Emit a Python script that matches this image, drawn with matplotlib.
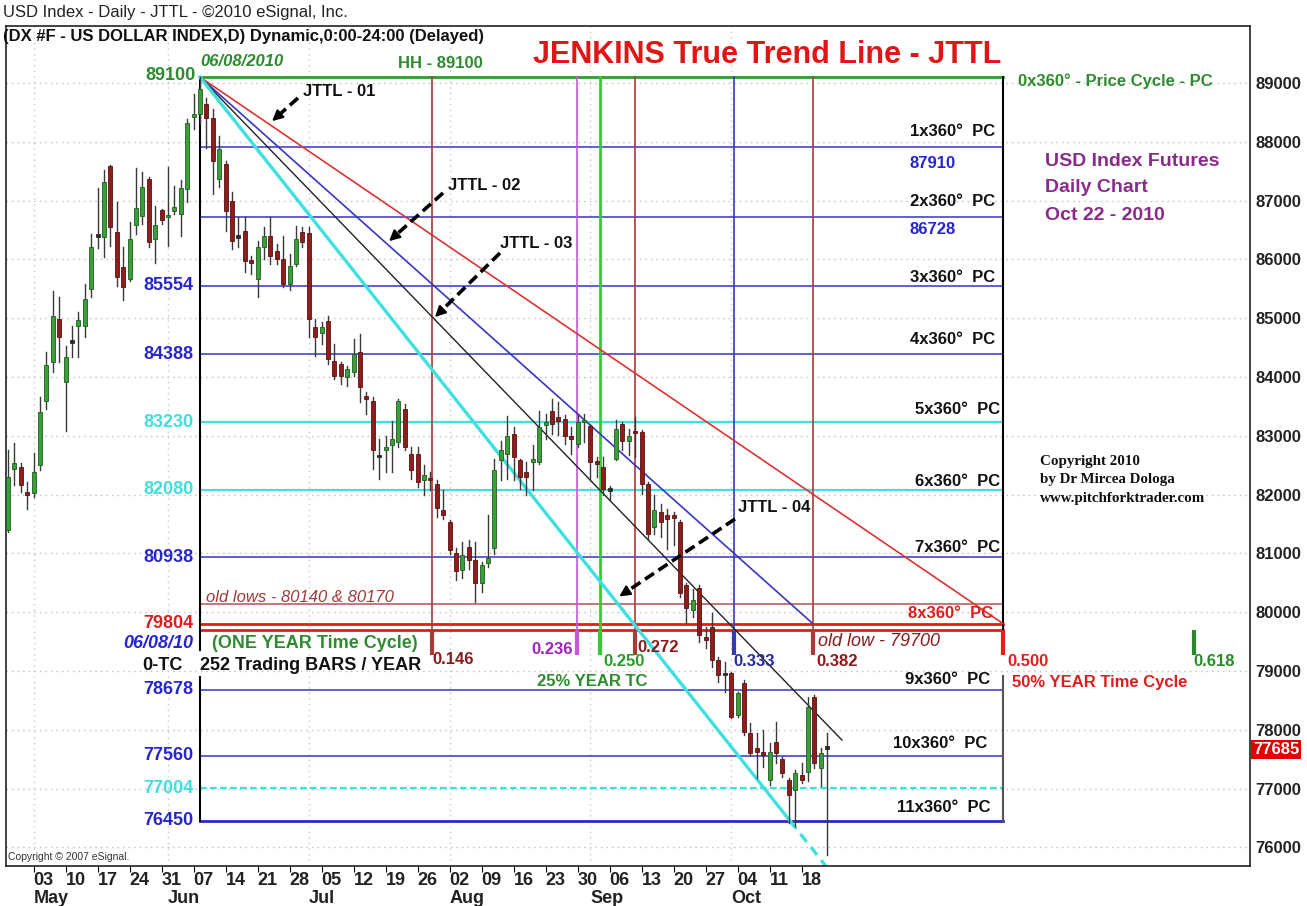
import matplotlib
matplotlib.use('Agg')
import matplotlib.pyplot as plt
from matplotlib.patches import FancyArrowPatch
import numpy as np
import pandas as pd

plt.rcParams['font.family'] = ['Liberation Sans', 'DejaVu Sans']

W, H = 1307, 906

# ---- daily bars, Apr 27 - Oct 22 2010 ----
dates = pd.bdate_range('2010-04-27', '2010-10-22')
opens = [81400, 82430, 82470, 82040, 82020, 82500, 83600, 84250, 84990, 83910,
         84590, 84875, 84875, 85500, 86390, 86375, 87590, 86460, 85865, 85665,
         86590, 86740, 87365, 86345, 86840, 86715, 86830, 86780, 87195, 88415,
         88470, 88640, 88410, 87365, 87620, 87000, 86400, 86490, 85990, 85665,
         86205, 86400, 86135, 86005, 85580, 85920, 86460, 86445, 84845, 84745,
         84960, 84280, 84225, 84000, 84080, 84420, 83685, 83600, 82665, 82750,
         82840, 82895, 83460, 82695, 82695, 82245, 82290, 82185, 81735, 81535,
         81000, 80715, 81110, 80885, 80490, 80840, 81085, 82580, 82695, 83035,
         82580, 82385, 82555, 82555, 83190, 83430, 83320, 83290, 83005, 82865,
         83235, 83175, 82565, 82470, 82100, 82610, 83205, 82920, 83090, 83065,
         82185, 81450, 81705, 81650, 81650, 81535, 80460, 80035, 80405, 79585,
         79755, 79185, 78960, 78960, 78255, 78790, 77940, 77685, 77630, 77150,
         77785, 77500, 77150, 76980, 77235, 77290, 78565, 77350, 77715]
highs = [82750, 82870, 82530, 82215, 82700, 83660, 84420, 85470, 85360, 84535,
         84875, 85100, 85580, 86430, 87220, 87520, 87610, 86970, 86205, 86630,
         87550, 87480, 87395, 86910, 86855, 87565, 87250, 87350, 88385, 88810,
         89100, 88750, 88550, 88100, 87675, 87140, 86715, 86715, 86063, 86320,
         86545, 86715, 86260, 86400, 86090, 86575, 86545, 86545, 84990, 84930,
         85045, 84565, 84250, 84195, 84650, 84735, 83743, 83660, 82950, 83005,
         83260, 83630, 83545, 82810, 82810, 82500, 82385, 82245, 82074, 81564,
         81100, 81195, 81225, 81195, 80857, 81650, 82610, 82920, 83345, 83150,
         82610, 82554, 82837, 83430, 83375, 83630, 83573, 83347, 83148, 83375,
         83375, 83205, 82639, 82639, 82140, 83262, 83233, 83120, 83318, 83092,
         82215, 81988, 81847, 81762, 81705, 81565, 80490, 80403, 80460, 79753,
         79980, 79243, 79158, 78989, 78650, 78847, 78112, 77942, 77998, 77772,
         78140, 77546, 77178, 77320, 77433, 78565, 78593, 77687, 77942]
lows = [81370, 82160, 82050, 81760, 81960, 82410, 83460, 84080, 84250, 83090,
        84340, 84340, 84680, 85355, 86200, 86035, 86230, 85550, 85310, 85640,
        86430, 86600, 86205, 85935, 86600, 86235, 86770, 86400, 86970, 88215,
        88300, 87900, 87110, 87225, 86490, 86175, 86205, 85780, 85752, 85355,
        86005, 85920, 85920, 85525, 85480, 85895, 86205, 84675, 84365, 84560,
        84225, 83970, 83885, 83855, 84025, 83575, 83375, 82440, 82270, 82385,
        82385, 82810, 82750, 82270, 82130, 81990, 82074, 81620, 81592, 80998,
        80545, 80575, 80743, 80180, 80347, 80770, 80990, 82245, 82270, 82245,
        82100, 81988, 82073, 82525, 82950, 83035, 83007, 82865, 82696, 82809,
        82893, 82243, 82300, 81988, 81903, 82582, 82752, 82667, 82639, 82017,
        81252, 81337, 81281, 81083, 81140, 80262, 79810, 79922, 79500, 79385,
        79075, 78819, 78649, 78196, 78225, 77914, 77580, 77178, 77376, 77065,
        77433, 77206, 76414, 76357, 77093, 77122, 77348, 77036, 75876]
closes = [82300, 82540, 82160, 81990, 82385, 83400, 84200, 85045, 84680, 84340,
          84620, 84970, 85330, 86215, 86420, 87310, 86545, 85695, 85525, 86345,
          86870, 87235, 86290, 86590, 86670, 86760, 86885, 87210, 88325, 88470,
          88900, 88410, 87675, 87875, 86830, 86320, 86375, 85980, 85935, 86205,
          86400, 86065, 86005, 85580, 85895, 86345, 86290, 84990, 84675, 84845,
          84310, 84025, 84025, 84140, 84395, 83830, 83630, 82750, 82640, 82810,
          82950, 83600, 82810, 82415, 82215, 82330, 82245, 81765, 81650, 81055,
          80700, 80970, 80885, 80490, 80800, 80915, 82425, 82750, 83005, 82640,
          82300, 82300, 82610, 83150, 83235, 83205, 83260, 83005, 82950, 83235,
          83275, 82555, 82525, 82100, 82075, 83120, 82920, 83005, 83045, 82185,
          81335, 81735, 81535, 81590, 81595, 80320, 80065, 80205, 79610, 79525,
          79185, 78930, 78930, 78225, 78620, 77970, 77600, 77630, 77575, 77630,
          77600, 77265, 76895, 77265, 77150, 78395, 77435, 77600, 77685]

# ---- Jenkins levels ----
hh_price = 89100
pc_levels = [87910, 86728, 85554, 84388, 83230, 82080, 80938, 79804, 78678, 77560, 76450]
pc_colors = ['#3434c8', '#3434c8', '#3434c8', '#3434c8', '#3fe0e0', '#3fe0e0',
             '#3434c8', '#e81a1a', '#3434c8', '#3434c8', '#2a2ac0']
left_labels = ['85554', '84388', '83230', '82080', '80938', '79804', '78678', '77560', '77004', '76450']
left_values = [85554, 84388, 83230, 82080, 80938, 79804, 78678, 77560, 77004, 76450]
left_colors = ['#2626d0', '#2626d0', '#40dede', '#40dede', '#2626d0', '#e01c1c',
               '#2626d0', '#2626d0', '#40dede', '#2626d0']
old_lows = 80140
old_low = 79700
half_level = 77004

cycle_fracs = [0.146, 0.236, 0.250, 0.272, 0.333, 0.382, 0.500, 0.618]
cycle_names = ['0.146', '0.236', '0.250', '0.272', '0.333', '0.382', '0.500', '0.618']
cycle_colors = ['#a83a3a', '#cc55dd', '#33cc33', '#a83a3a', '#3a3ab0', '#a83a3a', '#ee1a1a', '#2a8a2a']
text_colors = ['#8b1a1a', '#a020c0', '#2a9a2a', '#8b1a1a', '#2a2a9a', '#8b1a1a', '#e02020', '#2a8a2a']
bars_per_year = 252
month_lbl = ['May', 'Jun', 'Jul', 'Aug', 'Sep', 'Oct']

x = np.arange(len(dates))
i0 = int(np.where(dates == pd.Timestamp('2010-06-08'))[0][0])  # 0-TC bar
cyc_x = [i0 - 0.5 + bars_per_year * f for f in cycle_fracs]
x_half = cyc_x[6]

fig = plt.figure(figsize=(W / 100, H / 100), dpi=100)
ax = fig.add_axes([6 / W, 40 / H, 1244 / W, 840 / H])
ax.set_xlim(-0.31, 194.06)
ax.set_ylim(75684, 89969)

# grid
for g in range(76000, 89001, 1000):
    ax.axhline(g, color='#bdbdbd', lw=1, ls=(0, (1, 3)), zorder=0)
month_pos = [k for k in range(1, len(dates)) if dates[k].month != dates[k - 1].month]
for k in month_pos:
    ax.axvline(k, color='#c8c8c8', lw=1, ls=(0, (1, 3)), zorder=0)

# horizontal price cycle lines
ax.plot([i0, x_half], [hh_price, hh_price], color='#2ca02c', lw=2, zorder=2)
for lv, c in zip(pc_levels, pc_colors):
    lw = 2.0 if lv in (79804, 76450) else (1.6 if c == '#3fe0e0' else 1.1)
    ax.plot([i0, x_half], [lv, lv], color=c, lw=lw, zorder=2)
ax.plot([i0, x_half], [old_low, old_low], color='#e81a1a', lw=2, zorder=2)
ax.plot([i0, x_half], [old_lows, old_lows], color='#b86060', lw=1.2, zorder=2)
ax.plot([i0, x_half], [half_level, half_level], color='#3fe0e0', lw=1.6, ls=(0, (3, 1.5)), zorder=2)

# 0-TC line and 0.500 line
ax.plot([i0, i0], [hh_price, 79356], color='black', lw=1.5, zorder=2)
ax.plot([i0, i0], [78900, 76450], color='black', lw=1.5, zorder=2)
ax.plot([x_half, x_half], [hh_price, old_low], color='black', lw=1.5, zorder=2)
ax.plot([x_half, x_half], [78910, 76450], color='#555555', lw=1.5, zorder=2)

# time cycle verticals with thick ticks
for k, (cx, c) in enumerate(zip(cyc_x, cycle_colors)):
    if k < 6:
        ax.plot([cx, cx], [hh_price, old_low], color=c, lw=2 if k == 2 else 1.2, zorder=2)
    ax.plot([cx, cx], [old_low, 79270], color=c, lw=3, zorder=2, solid_capstyle='butt')

# JTTL lines from the high
apex = (i0, hh_price)
ax.plot([apex[0], x_half], [apex[1], 79804], color='#dd3333', lw=1.2, zorder=2)
ax.plot([apex[0], cyc_x[5]], [apex[1], 79804], color='#3636c0', lw=1.2, zorder=2)
ax.plot([apex[0], 130.3], [apex[1], 77826], color='#222222', lw=1.0, zorder=2)
ax.plot([apex[0], 122.2], [apex[1], 76450], color='#3fe0e0', lw=2.4, zorder=2)
ax.plot([122.2, 128.4], [76450, 75600], color='#3fe0e0', lw=2.4, ls=(0, (3, 2)), zorder=2)

# candles
for xi, o, h, l, c in zip(x, opens, highs, lows, closes):
    ax.plot([xi, xi], [l, h], color='#3a3a3a', lw=1, zorder=3)
    up = c >= o
    lo, hi = min(o, c), max(o, c)
    if hi - lo < 40:
        lo, hi = (lo + hi) / 2 - 20, (lo + hi) / 2 + 20
        face, edge = '#2a2a2a', '#2a2a2a'
    else:
        face, edge = ('#3a9e3a', '#1e5e1e') if up else ('#901c1c', '#5a1010')
    ax.bar(xi, hi - lo, bottom=lo, width=0.6, color=face, edgecolor=edge, lw=0.6, zorder=4)

# axes styling
ax.yaxis.tick_right()
ax.set_yticks(range(76000, 89001, 1000))
ax.set_yticklabels([str(v) for v in range(76000, 89001, 1000)], fontsize=12, fontweight='bold', color='#222')
ax.tick_params(axis='y', length=0, pad=4)
mondays = [k for k, d in enumerate(dates) if d.weekday() == 0]
ax.set_xticks(mondays)
ax.set_xticklabels([])
ax.tick_params(axis='x', length=4, direction='out')
for s in ax.spines.values():
    s.set_color('#222')
    s.set_linewidth(1.2)
tr = ax.get_xaxis_transform()
for k in mondays:
    ax.text(k, -0.0167, dates[k].strftime('%d'), transform=tr, ha='left', va='center',
            fontsize=13, fontweight='bold', color='#222')
for k, m in zip(month_pos, month_lbl):
    ax.text(k, -0.0381, m, transform=tr, ha='left', va='center', fontsize=13, fontweight='bold', color='#222')

# left level labels
for s, v, c in zip(left_labels, left_values, left_colors):
    ax.text(29.0, v, s, ha='right', va='center', fontsize=13, fontweight='bold', color=c, zorder=5)


def ptext(px, py, s, **kw):
    kw.setdefault('va', 'center')
    return fig.text(px / W, 1 - py / H, s, **kw)


B = dict(fontweight='bold')
ptext(3, 12, 'USD Index - Daily - JTTL - \u00a92010 eSignal, Inc.', fontsize=12, color='#222')
ptext(3, 37, '(DX #F - US DOLLAR INDEX,D) Dynamic,0:00-24:00 (Delayed)', fontsize=12, color='#111', **B)
ptext(533, 55, 'JENKINS True Trend Line - JTTL', fontsize=22, color='#e01515', **B)
ptext(200, 62, '06/08/2010', fontsize=12, color='#2e8b2e', style='italic', **B)
ptext(398, 64, 'HH - 89100', fontsize=12, color='#2e8b2e', **B)
ptext(196, 75, '89100', fontsize=13, color='#2e8b2e', ha='right', **B)
ptext(1018, 81, '0x360\u00b0 - Price Cycle - PC', fontsize=12, color='#2e8b2e', **B)

pc_text_pos = [(910, 132), (910, 201), (910, 278), (910, 340), (915, 410), (915, 481),
               (915, 548), (908, 613), (905, 680), (893, 743), (897, 807)]
for n, (px, py) in enumerate(pc_text_pos, start=1):
    ptext(px, py, f'{n}x360\u00b0  PC', fontsize=12, color='#e01c1c' if n == 8 else '#111', **B)
ptext(910, 163, '87910', fontsize=12, color='#2626d0', **B)
ptext(910, 230, '86728', fontsize=12, color='#2626d0', **B)

ptext(193, 643, '06/08/10', fontsize=13, color='#2626d0', ha='right', style='italic', **B)
ptext(183, 665, '0-TC', fontsize=13, color='#111', ha='right', **B)
ptext(212, 643, '(ONE YEAR Time Cycle)', fontsize=13, color='#2e8b2e', **B)
ptext(200, 665, '252 Trading BARS / YEAR', fontsize=13, color='#111', **B)
ptext(206, 597, 'old lows - 80140 & 80170', fontsize=12, color='#a03a3a', style='italic')
ptext(818, 641, 'old low - 79700', fontsize=13, color='#8b1a1a', style='italic')
ptext(537, 682, '25% YEAR TC', fontsize=12, color='#2e8b2e', **B)
ptext(1012, 683, '50% YEAR Time Cycle', fontsize=12, color='#e01c1c', **B)

cyc_lbl_pos = [(432, 660, 'left'), (573, 649, 'right'), (603, 661, 'left'), (637, 648, 'left'),
               (733, 661, 'left'), (816, 661, 'left'), (1007, 661, 'left'), (1193, 662, 'left')]
for (px, py, ha), s, c in zip(cyc_lbl_pos, cycle_names, text_colors):
    ptext(px, py, s, fontsize=12, color=c, ha=ha, **B)

for s, px, py in [('JTTL - 01', 303, 92), ('JTTL - 02', 448, 185),
                  ('JTTL - 03', 500, 244), ('JTTL - 04', 738, 508)]:
    ptext(px, py, s, fontsize=12, color='#111', **B)

ptext(1045, 162, 'USD Index Futures', fontsize=14, color='#8b2a8b', **B)
ptext(1045, 188, 'Daily Chart', fontsize=14, color='#8b2a8b', **B)
ptext(1045, 215, 'Oct 22 - 2010', fontsize=14, color='#8b2a8b', **B)

for s, py in [('Copyright 2010', 461), ('by Dr Mircea Dologa', 479), ('www.pitchforktrader.com', 498)]:
    ptext(1040, py, s, fontsize=10.8, color='#111', family='Liberation Serif', **B)
ptext(8, 857, 'Copyright \u00a9 2007 eSignal.', fontsize=7.5, color='#333')
ptext(1253, 749, str(closes[-1]), fontsize=12, color='white',
      bbox=dict(boxstyle='square,pad=0.12', fc='#e00000', ec='none'), **B)

# dashed pointer arrows (figure pixels)
arrows = [((298, 98), (270, 123)), ((443, 193), (387, 243)),
          ((500, 253), (433, 319)), ((735, 519), (617, 598))]
for (x1, y1), (x2, y2) in arrows:
    dx, dy = x2 - x1, y2 - y1
    L = np.hypot(dx, dy)
    hx, hy = x2 - dx / L * 14, y2 - dy / L * 14
    fig.add_artist(plt.Line2D([x1, hx], [H - y1, H - hy], transform=None,
                              color='black', lw=2.6, ls=(0, (3, 1.5))))
    fig.add_artist(FancyArrowPatch((hx, H - hy), (x2, H - y2), transform=None,
                                   arrowstyle='-|>', mutation_scale=16, color='black', lw=1.5))

fig.savefig('out.png', dpi=100)
